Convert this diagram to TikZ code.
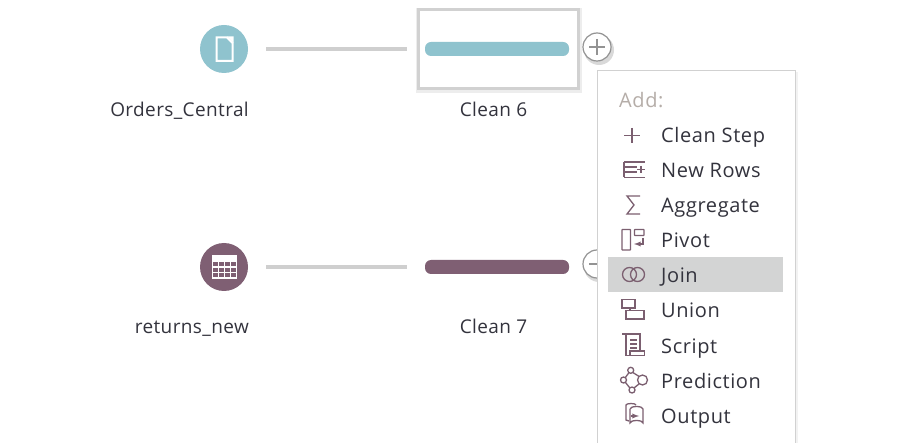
\documentclass[tikz,border=0pt]{standalone}
\usepackage{fontspec}
\setmainfont{Open Sans}
\usetikzlibrary{positioning}
\definecolor{tealflow}{HTML}{8FC3CE}
\definecolor{plumflow}{HTML}{7F5F73}
\definecolor{iconplum}{HTML}{7B5F70}
\definecolor{lineflow}{HTML}{CFCFCF}
\definecolor{textflow}{HTML}{33333D}
\definecolor{addgray}{HTML}{B5ADA8}
\definecolor{joingray}{HTML}{D3D4D4}
\tikzset{
  source/.style={circle, minimum size=48pt, inner sep=0pt, outer sep=0pt},
  cleanbox/.style={minimum width=160pt, minimum height=79pt, inner sep=0pt, outer sep=0pt},
  cleanbar/.style={rounded corners=6pt, minimum width=144pt, minimum height=14pt, inner sep=0pt},
  flowlabel/.style={font=\fontsize{19}{19}\selectfont\addfontfeature{LetterSpace=2}, text=textflow, inner sep=0pt},
  menuitem/.style={font=\fontsize{20}{20}\selectfont\addfontfeature{LetterSpace=3}, text=textflow, inner sep=0pt, anchor=base west},
  flowline/.style={lineflow, line width=4pt, shorten <=18pt, shorten >=11pt},
  addbutton/.style={circle, draw=gray!85, line width=1.2pt, fill=white, minimum size=28pt, inner sep=0pt},
  iconline/.style={iconplum, line width=1.3pt}
}
\begin{document}
\begin{tikzpicture}[x=1pt, y=-1pt]
    \useasboundingbox (0,0) rectangle (904,443);
    \fill[white] (0,0) rectangle (904,443);

    % Sources
    \node[source, fill=tealflow] (orders) at (224,49) {};
    \node[source, fill=plumflow] (returns) at (224,267) {};
    \node[flowlabel, anchor=base east] (orderslabel) at (249,117) {Orders\_Central};
    \node[flowlabel, anchor=base east] (returnslabel) at (249,334) {returns\_new};

    % Clean steps
    \fill[black!7] (416,8) rectangle (582,93);
    \node[cleanbox, draw=black!18, line width=3pt, fill=white] (cleansix) at (498,49) {};
    \node[cleanbox] (cleanseven) at (498,267) {};
    \node[cleanbar, fill=tealflow] (barsix) at (497,49) {};
    \node[cleanbar, fill=plumflow] (barseven) at (497,267) {};
    \node[flowlabel, anchor=base] (sixlabel) at (493.5,117) {Clean 6};
    \node[flowlabel, anchor=base] (sevenlabel) at (493.5,334) {Clean 7};

    % Connectors
    \draw[flowline] (orders) -- (cleansix);
    \draw[flowline] (returns) -- (cleanseven);

    % Add buttons
    \fill[black!15] (599,50) circle (15);
    \fill[black!15] (599,267) circle (15);
    \foreach \n/\y in {one/47, two/264} {
      \node[addbutton] (add\n) at (597,\y) {};
      \draw[gray!85, line width=1.2pt] (589,\y) -- (605,\y);
    }
    \draw[gray!85, line width=1.2pt] (597,39) -- (597,55);

    % Menu
    \fill[black!5] (599,72) rectangle (798,443);
    \fill[white, draw=black!18] (597,70) rectangle (795,444);
    \fill[joingray] (608,257) rectangle (783,292);
    \node[menuitem, text=addgray] (addtitle) at (619,108) {Add:};
    \foreach \n/\y/\t in {clean/143/Clean Step, rows/178/New Rows, aggregate/213/Aggregate, pivot/248/Pivot, join/283/Join, union/318/Union, script/353/Script, prediction/388/Prediction, output/423/Output} {
      \node[menuitem] (\n) at (661,\y) {\t};
    }

    % Doc and table icons
    \draw[white, line width=2pt, line join=miter] (216.5,37.5) -- (227,37.5) -- (232.5,43) -- (232.5,61) -- (216.5,61) -- cycle;
    \fill[white] (227,36.5) -- (233.5,36.5) -- (233.5,43) -- cycle;
    \draw[white, line width=1.5pt] (212.5,256) rectangle (236.5,278);
    \fill[white] (212.5,256) rectangle (236.5,261);
    \foreach \x in {218.5, 224.5, 230.5} \draw[white, line width=1.3pt] (\x,256) -- (\x,278);
    \foreach \y in {261, 267, 272.5} \draw[white, line width=1.3pt] (212.5,\y) -- (236.5,\y);

    % Clean Step
    \draw[iconline] (624,135.5) -- (640,135.5);
    \draw[iconline] (632,128) -- (632,143);
    % New Rows
    \draw[iconline] (624,162) -- (645,162);
    \draw[iconline] (624,167) -- (637,167);
    \draw[iconline] (624,172) -- (637,172);
    \draw[iconline] (624,177.5) -- (645,177.5);
    \draw[iconline] (624,162) -- (624,177.5);
    \draw[iconline] (637,169.5) -- (645,169.5);
    \draw[iconline] (641,166) -- (641,173);
    % Aggregate
    \draw[iconline] (640,196) -- (627,196) -- (634,205) -- (627,214) -- (640,214);
    % Pivot
    \draw[iconline, rounded corners=.5pt] (622,229.5) rectangle (630.5,250);
    \draw[iconline, rounded corners=.5pt] (634.5,229.5) rectangle (644,235.5);
    \draw[iconline, -latex] (643,238) -- (643,244) -- (634,244);
    % Join
    \draw[iconline] (629.5,274.5) circle (7);
    \draw[iconline] (637.5,274.5) circle (7);
    % Union
    \draw[iconline] (622,299.5) rectangle (635,308);
    \draw[iconline] (626,310.5) rectangle (644,319);
    \draw[iconline] (630,308) -- (630,310.5);
    % Script
    \draw[iconline] (622,334) -- (640,334) -- (640,352);
    \draw[iconline] (626,334) -- (626,355.5) -- (644.5,355.5) -- (644.5,351) -- (630,351) -- (630,355.5);
    \draw[iconline] (630,340) -- (637,340);
    \draw[iconline] (630,344) -- (637,344);
    \draw[iconline] (630,348) -- (637,348);
    % Prediction
    \draw[iconline] (630.7,370.3) circle (3);
    \draw[iconline] (623.5,380) circle (3);
    \draw[iconline] (642.5,380) circle (5);
    \draw[iconline] (632,390) circle (3);
    \draw[iconline] (628.9,372.7) -- (625.3,377.6);
    \draw[iconline] (632.8,372.5) -- (639,376.4);
    \draw[iconline] (625.4,382.4) -- (629.8,387.9);
    \draw[iconline] (634.2,387.8) -- (639.2,383.8);
    % Output
    \draw[iconline] (636,405) arc[start angle=0, end angle=-180, x radius=5, y radius=1.5] -- (626,420) -- (629,421);
    \draw[iconline, fill=white] (630,409) -- (630,423) arc[start angle=180, end angle=360, x radius=6.5, y radius=2.5] -- (643,409) arc[start angle=0, end angle=-180, x radius=6.5, y radius=2.5];
    \draw[iconline, -latex] (631,416) -- (639,416);
\end{tikzpicture}
\end{document}
